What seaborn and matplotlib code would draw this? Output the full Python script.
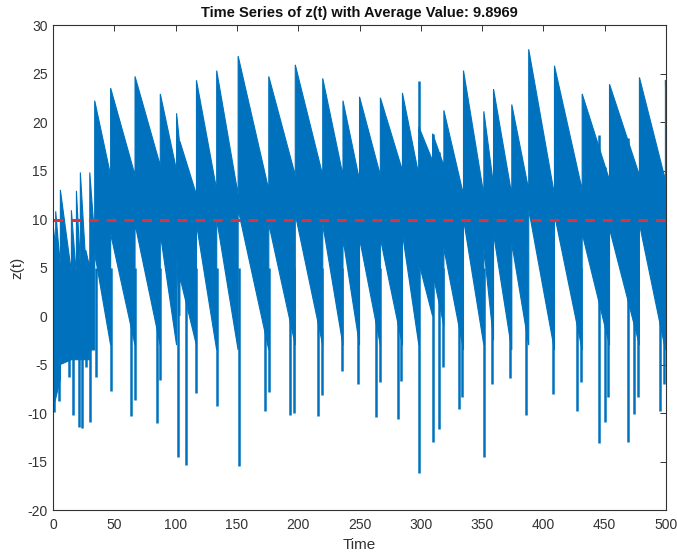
import matplotlib
matplotlib.use("Agg")
import matplotlib.pyplot as plt
import numpy as np
import pandas as pd
import seaborn as sns

# Oscillation cycles of z(t): each cycle starts with a jump of the upper
# envelope to its peak, then both envelopes drift down until the next cycle.
cycle_start = [0.0, 2.2, 6.0, 15.0, 19.1, 22.3, 26.7, 30.0, 34.0, 47.0, 66.9, 87.5,
               100.8, 103.5, 117.0, 133.5, 151.0, 176.0, 197.6, 220.0, 236.5, 250.0,
               267.0, 285.0, 298.4, 309.6, 318.8, 334.8, 351.4, 359.3, 374.2, 388.0,
               409.0, 431.6, 453.9, 478.3, 499.5]
cycle_peak = [9.5, 10.8, 13.0, 10.9, 12.9, 14.8, 6.8, 14.8, 22.2, 23.5, 24.7, 22.9,
              20.9, 18.0, 24.3, 25.3, 26.8, 24.7, 25.9, 24.5, 22.2, 22.6,
              22.5, 23.0, 19.5, 18.8, 21.2, 25.3, 21.1, 23.4, 21.8, 27.5,
              25.8, 22.9, 23.9, 24.6, 24.3]
cycle_upper_end = [7.0, 5.0, 4.5, 4.0, 5.0, 5.5, 5.0, 8.0, 14.5, 14.5, 15.5, 15.0,
                   17.5, 12.5, 13.0, 12.5, 13.0, 14.5, 14.5, 14.5, 14.0, 14.5,
                   15.0, 14.5, 16.0, 15.5, 12.5, 12.5, 13.5, 12.5, 13.0, 12.5,
                   13.0, 14.0, 14.5, 14.0, 20.0]
cycle_lower_start = [-9.5, -8.5, -5.0, -4.5, -4.5, -4.5, -4.5, -3.5, 6.5, 8.5, 9.5, 8.5,
                     6.5, 4.0, 9.5, 10.0, 11.0, 9.5, 10.5, 9.5, 8.0, 8.0,
                     8.0, 8.5, 5.5, 4.5, 7.0, 10.0, 7.0, 8.5, 7.5, 11.0,
                     10.5, 8.5, 9.0, 9.5, 8.0]
cycle_lower_end = [-8.5, -6.5, -4.5, -4.5, -4.5, -4.5, -4.5, -3.5, -3.0, -3.0, -3.0, -3.0,
                   0.0, -3.0, -3.5, -3.5, -3.5, -3.0, -3.0, -3.0, -3.0, -3.0,
                   -3.0, -3.0, 0.0, -1.0, -3.5, -3.0, -2.5, -3.5, -3.0, -3.5,
                   -3.5, -3.0, -3.0, -3.5, 7.0]

# Single large swings that reach beyond the envelopes
dip_time = [1.0, 5.0, 13.3, 16.4, 20.8, 23.7, 26.7, 30.2, 34.9, 47.5, 63.8, 67.0,
            84.7, 87.6, 102.3, 108.8, 116.9, 133.4, 151.6, 173.0, 176.0, 193.3,
            196.3, 216.0, 219.0, 235.8, 249.0, 263.8, 266.5, 281.4, 284.1, 298.8,
            310.2, 314.5, 318.0, 330.8, 333.8, 351.4, 358.2, 372.9, 385.9, 407.6,
            427.5, 430.4, 445.1, 450.0, 452.7, 469.0, 474.1, 476.8, 495.0, 498.5]
dip_value = [-9.9, -8.8, -6.3, -10.2, -11.4, -11.5, -5.3, -10.9, -6.3, -7.7, -10.3, -8.7,
             -11.0, -6.6, -14.5, -15.4, -7.9, -9.3, -15.5, -9.8, -7.8, -10.2,
             -10.0, -10.3, -8.1, -5.7, -7.0, -10.4, -6.8, -10.6, -6.7, -16.2,
             -13.0, -11.6, -5.3, -9.6, -8.4, -14.5, -7.0, -6.4, -10.2, -8.0,
             -9.8, -6.8, -13.1, -10.9, -8.4, -13.0, -10.1, -8.4, -9.8, -7.0]
rise_time = [298.4, 310.2, 314.5, 445.1, 450.0, 469.0, 472.6, 496.0]
rise_value = [24.2, 18.8, 16.9, 18.7, 15.4, 18.4, 15.1, 14.7]

avg_value = 9.8969
t_end = 500.0

blue = "#0072BD"
red = "#D9343C"

sns.set_theme(style="white")
plt.rcParams["font.family"] = ["Liberation Sans", "DejaVu Sans"]
plt.rcParams["axes.unicode_minus"] = False

fig = plt.figure(figsize=(6.77, 5.56), dpi=100)
ax = fig.add_axes([0.0783, 0.0827, 0.9055, 0.8723])

# Envelope band built from the cycle table
ends = cycle_start[1:] + [t_end]
up_x, up_y, lo_x, lo_y = [], [], [], []
for s, e, pk, ue, ls, le in zip(cycle_start, ends, cycle_peak, cycle_upper_end,
                                cycle_lower_start, cycle_lower_end):
    up_x += [s, e]
    up_y += [pk, ue]
    lo_x += [s, e]
    lo_y += [ls, le]
band = pd.DataFrame({"t": up_x + lo_x[::-1], "z": up_y + lo_y[::-1]})
ax.fill(band["t"], band["z"], color=blue, lw=0.8, ec=blue)

ax.vlines(dip_time, dip_value, 5, color=blue, lw=1.8)
ax.vlines(rise_time, 5, rise_value, color=blue, lw=1.8)

sns.lineplot(x=[0, t_end], y=[avg_value, avg_value], ax=ax, color=red,
             lw=2.2, linestyle=(0, (3.2, 2.6)))

ax.set_xlim(0, 500)
ax.set_ylim(-20, 30)
ax.set_xticks(np.arange(0, 501, 50))
ax.set_yticks(np.arange(-20, 31, 5))
ax.tick_params(direction="in", top=True, right=True, length=4, width=0.7,
               colors="#333333", labelsize=10)
ax.tick_params(axis="x", pad=6)
ax.tick_params(axis="y", pad=4)
for sp in ax.spines.values():
    sp.set_visible(True)
    sp.set_color("#333333")
    sp.set_linewidth(0.8)

ax.set_title("Time Series of z(t) with Average Value: 9.8969", fontsize=10.5,
             fontweight="bold", color="#111111", pad=6)
ax.set_xlabel("Time", fontsize=11, color="#333333", labelpad=4)
ax.set_ylabel("z(t)", fontsize=11, color="#333333", labelpad=2)

fig.savefig("out.png", dpi=100)
